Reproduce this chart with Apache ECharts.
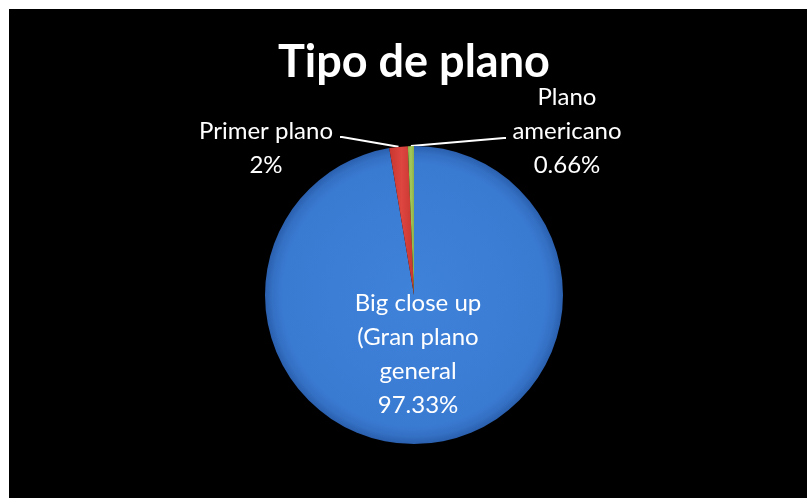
<!DOCTYPE html>
<html>
<head>
<meta charset="utf-8">
<script src="https://cdn.jsdelivr.net/npm/echarts@6/dist/echarts.min.js"></script>
<style>
  html, body { margin: 0; padding: 0; background: #ffffff; }
  #chart { width: 807px; height: 498px; }
</style>
</head>
<body>
<div id="chart"></div>
<script>
// Shot types and their shares (%)
const categories = ['Big close up\n(Gran plano\ngeneral', 'Primer plano', 'Plano americano'];
const valueLabels = ['97.33%', '2%', '0.66%'];
const values = [97.33, 2, 0.66];
const labelTexts = ['Big close up\n(Gran plano\ngeneral\n97.33%', 'Primer plano\n2%', 'Plano\namericano\n0.66%'];

const FONT = 'Lato, "Open Sans", sans-serif';

const colors = [
  {
    type: 'radial', x: 0.5, y: 0.5, r: 0.5,
    colorStops: [
      { offset: 0, color: '#3f82da' },
      { offset: 0.88, color: '#3a7bd2' },
      { offset: 0.95, color: '#3470c4' },
      { offset: 1, color: '#2a5fad' }
    ]
  },
  {
    type: 'linear', x: 0, y: 0, x2: 1, y2: 0,
    colorStops: [
      { offset: 0, color: '#c7362f' },
      { offset: 0.5, color: '#de4640' },
      { offset: 1, color: '#c7362f' }
    ]
  },
  {
    type: 'linear', x: 0, y: 0, x2: 1, y2: 0,
    colorStops: [
      { offset: 0, color: '#8db048' },
      { offset: 0.5, color: '#a3c85a' },
      { offset: 1, color: '#8db048' }
    ]
  }
];

const chart = echarts.init(document.getElementById('chart'));
chart.setOption({
  backgroundColor: '#ffffff',
  animation: false,
  graphic: [{
    type: 'rect', left: 9, top: 9, z: -10,
    shape: { width: 798, height: 489 },
    style: { fill: '#000000' }
  }],
  title: {
    text: 'Tipo de plano',
    left: 273,
    top: 35,
    textStyle: { color: '#ffffff', fontFamily: FONT, fontWeight: 'bold', fontSize: 45 }
  },
  series: [{
    type: 'pie',
    center: [414, 295],
    radius: 149,
    startAngle: 90,
    clockwise: true,
    avoidLabelOverlap: false,
    data: categories.map((name, i) => ({
      name: name,
      value: values[i],
      itemStyle: { color: colors[i] },
      label: {
        position: i === 0 ? 'inside' : 'outside',
        formatter: labelTexts[i]
      },
      labelLine: { show: i !== 0 }
    })),
    label: {
      color: '#ffffff',
      fontFamily: FONT,
      fontSize: 24,
      lineHeight: 34,
      align: 'center'
    },
    labelLine: {
      lineStyle: { color: '#ffffff', width: 2 },
      length: 20, length2: 20
    },
    labelLayout: function (p) {
      const start = (p.labelLinePoints && p.labelLinePoints[0]) || null;
      if (p.dataIndex === 0) {
        return { x: 418, y: 354, align: 'center', verticalAlign: 'middle' };
      }
      if (p.dataIndex === 1) {
        const res = { x: 266, y: 148, align: 'center', verticalAlign: 'middle' };
        if (start) res.labelLinePoints = [start, [342, 137], [340, 137]];
        return res;
      }
      const res = { x: 567, y: 131, align: 'center', verticalAlign: 'middle' };
      if (start) res.labelLinePoints = [start, [504, 138], [506, 138]];
      return res;
    }
  }]
});
</script>
</body>
</html>
